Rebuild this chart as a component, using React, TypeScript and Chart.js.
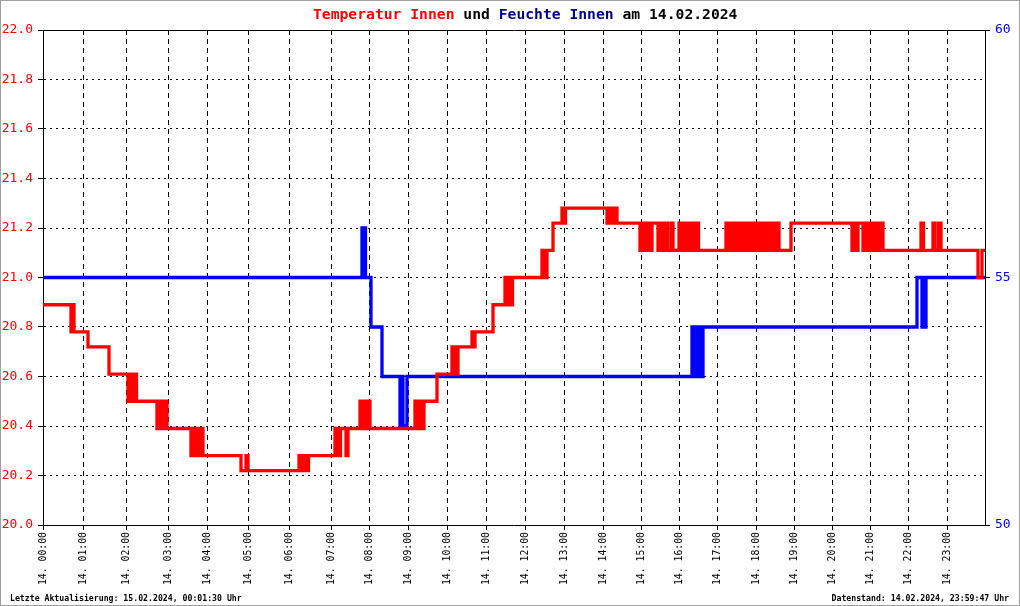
import React, { useEffect, useRef } from "react";
import { Chart, registerables } from "chart.js";

Chart.register(...registerables);

// x values are sample positions along the day's log (0 .. 942)
const xMax = 942;
const hourTickPos = [0, 40, 83, 125, 164, 205, 246, 288, 326, 365, 404, 443, 482, 521, 560, 598, 636, 674, 713, 751, 789, 827, 865, 904];
const hourLabels = ["14. 00:00", "14. 01:00", "14. 02:00", "14. 03:00", "14. 04:00", "14. 05:00", "14. 06:00", "14. 07:00", "14. 08:00", "14. 09:00", "14. 10:00", "14. 11:00", "14. 12:00", "14. 13:00", "14. 14:00", "14. 15:00", "14. 16:00", "14. 17:00", "14. 18:00", "14. 19:00", "14. 20:00", "14. 21:00", "14. 22:00", "14. 23:00"];

const tempSteps: [number, number][] = [
  [0, 20.89],
  [28, 20.78], [29.5, 20.89], [31, 20.78],
  [45, 20.72],
  [66, 20.61],
  [85, 20.5], [87, 20.61], [90, 20.5], [92, 20.61], [93.5, 20.5],
  [114, 20.39], [116, 20.5], [119, 20.39], [120.5, 20.5], [122, 20.39], [123, 20.5], [124, 20.39],
  [148, 20.28], [150, 20.39], [152, 20.28], [155, 20.39], [157, 20.28], [158.5, 20.39], [160, 20.28],
  [198, 20.22], [203, 20.28], [205, 20.22],
  [256, 20.28], [258, 20.22], [259.5, 20.28], [261, 20.22], [262.5, 20.28], [264, 20.22], [265.5, 20.28],
  [292, 20.39], [293.5, 20.28], [295, 20.39], [296, 20.28], [297.5, 20.39], [303, 20.28], [305, 20.39],
  [317, 20.5], [319, 20.39], [320.5, 20.5], [322, 20.39], [323.5, 20.5], [325, 20.39], [326, 20.5], [327, 20.39],
  [372, 20.5], [373.5, 20.39], [375, 20.5], [376.5, 20.39], [378, 20.5], [379.5, 20.39], [381, 20.5],
  [394, 20.61],
  [409, 20.72], [410.5, 20.61], [412, 20.72], [413.5, 20.61], [415, 20.72],
  [429, 20.78], [431, 20.72], [432, 20.78],
  [450, 20.89],
  [462, 21.0], [464, 20.89], [467, 21.0], [468.5, 20.89], [469.5, 21.0],
  [499, 21.11], [500.5, 21.0], [502, 21.11], [503, 21.0], [504, 21.11],
  [510, 21.22],
  [519, 21.28], [521, 21.22], [522.5, 21.28],
  [564, 21.22], [566, 21.28], [567.5, 21.22], [569, 21.28], [571, 21.22], [572.5, 21.28], [574, 21.22],
  [597, 21.11], [598.5, 21.22], [600, 21.11], [601.5, 21.22], [603, 21.11], [604.5, 21.22], [606, 21.11],
  [609, 21.22], [615, 21.11],
  [617, 21.22], [618.5, 21.11], [620, 21.22], [621.5, 21.11], [623, 21.22], [624.5, 21.11],
  [628, 21.22], [630, 21.11],
  [636, 21.22], [637.5, 21.11], [639, 21.22], [640.5, 21.11], [642, 21.22], [643.5, 21.11], [645, 21.22],
  [646.5, 21.11], [648, 21.22], [649.5, 21.11], [651, 21.22], [652.5, 21.11], [654, 21.22], [655.5, 21.11],
  [683, 21.22], [684.5, 21.11], [686, 21.22], [688, 21.11], [690, 21.22], [691.5, 21.11], [693, 21.22],
  [694.5, 21.11], [696, 21.22], [697.5, 21.11], [699, 21.22], [700.5, 21.11], [702, 21.22], [703.5, 21.11],
  [705, 21.22], [706.5, 21.11], [708, 21.22], [709.5, 21.11], [711, 21.22], [712.5, 21.11], [714, 21.22],
  [715.5, 21.11], [717, 21.22], [718.5, 21.11], [720, 21.22], [721.5, 21.11], [723, 21.22], [724.5, 21.11],
  [726, 21.22], [727.5, 21.11], [729, 21.22], [730.5, 21.11], [732, 21.22], [733.5, 21.11], [735, 21.22], [736, 21.11],
  [748, 21.22],
  [809, 21.11], [811, 21.22], [813, 21.11], [815, 21.22], [820, 21.11], [821.5, 21.22], [823, 21.11],
  [824.5, 21.22], [826, 21.11], [827, 21.22], [829, 21.11], [831, 21.22], [834, 21.11], [835.5, 21.22],
  [837, 21.11], [839, 21.22], [840, 21.11],
  [878, 21.22], [880.5, 21.11], [890, 21.22], [891.5, 21.11], [895, 21.22], [898, 21.11],
  [935, 21.0], [939, 21.11], [942, 21.11],
];

const humSteps: [number, number][] = [
  [0, 55], [319, 56], [320.5, 55], [321.5, 56], [322.5, 55], [328, 54], [339, 53],
  [357, 52], [359, 53], [360, 52], [364, 53],
  [649, 54], [650.5, 53], [652, 54], [653.5, 53], [655, 54], [656.5, 53], [658, 54], [659, 53], [660, 54],
  [874, 55], [879, 54], [881, 55], [882, 54], [883, 55], [942, 55],
];

const tempTicks = [20.0, 20.2, 20.4, 20.6, 20.8, 21.0, 21.2, 21.4, 21.6, 21.8, 22.0];
const humTicks = [50, 55, 60];

const titleParts: [string, string][] = [
  ["Temperatur Innen", "#ff0000"],
  [" und ", "#000000"],
  ["Feuchte Innen", "#00008b"],
  [" am 14.02.2024", "#000000"],
];
const footerLeft = "Letzte Aktualisierung: 15.02.2024, 00:01:30 Uhr";
const footerRight = "Datenstand: 14.02.2024, 23:59:47 Uhr";

const MONO = "'DejaVu Sans Mono', 'Liberation Mono', monospace";

const decorPlugin = {
  id: "decor",
  afterDraw(chart: any) {
    const ctx = chart.ctx;
    ctx.save();
    // outer border
    ctx.strokeStyle = "#a0a0a0";
    ctx.lineWidth = 1;
    ctx.setLineDash([]);
    ctx.strokeRect(0.5, 0.5, chart.width - 1, chart.height - 1);
    // title
    ctx.font = "bold 14.7px " + MONO;
    ctx.textBaseline = "alphabetic";
    ctx.textAlign = "left";
    let x = 313;
    for (const [t, c] of titleParts) {
      ctx.fillStyle = c;
      ctx.fillText(t, x, 19);
      x += ctx.measureText(t).width;
    }
    // footers
    ctx.font = "bold 8.2px " + MONO;
    ctx.fillStyle = "#000000";
    ctx.fillText(footerLeft, 10, 601);
    ctx.textAlign = "right";
    ctx.fillText(footerRight, 1009, 601);
    ctx.restore();
  },
};

export default function App() {
  const ref = useRef<HTMLCanvasElement | null>(null);
  useEffect(() => {
    document.body.style.margin = "0";
    const canvas = ref.current!;
    const chart = new Chart(canvas, {
      type: "line",
      data: {
        datasets: [
          {
            label: "Temperatur Innen",
            data: tempSteps.map(([x, y]) => ({ x, y })),
            borderColor: "#ff0000",
            borderWidth: 3.3,
            pointRadius: 0,
            stepped: true,
            yAxisID: "y",
            fill: false,
          },
          {
            label: "Feuchte Innen",
            data: humSteps.map(([x, y]) => ({ x, y })),
            borderColor: "#0000ff",
            borderWidth: 3.3,
            pointRadius: 0,
            stepped: true,
            yAxisID: "y1",
            fill: false,
          },
        ],
      },
      options: {
        responsive: false,
        animation: false,
        devicePixelRatio: 1,
        layout: { padding: { top: 30, left: 0, right: 0, bottom: 0 } },
        plugins: { legend: { display: false }, tooltip: { enabled: false }, title: { display: false } },
        scales: {
          x: {
            type: "linear",
            min: 0,
            max: xMax,
            afterBuildTicks: (s: any) => {
              s.ticks = hourTickPos.map((v) => ({ value: v }));
            },
            afterFit: (s: any) => {
              s.height = 81;
            },
            ticks: {
              autoSkip: false,
              maxRotation: 90,
              minRotation: 90,
              padding: 2,
              color: "#000000",
              font: { family: MONO, size: 9.8 },
              callback: (_v: any, i: number) => hourLabels[i],
            },
            grid: { color: "#000000", lineWidth: 1, tickLength: 5, drawTicks: true },
            border: { display: true, color: "#000000", width: 1, dash: [5, 4] },
          },
          y: {
            type: "linear",
            position: "left",
            min: 20,
            max: 22,
            afterBuildTicks: (s: any) => {
              s.ticks = tempTicks.map((v) => ({ value: v }));
            },
            afterFit: (s: any) => {
              s.width = 43;
            },
            ticks: {
              padding: 5,
              color: "#ff0000",
              font: { family: MONO, size: 13 },
              callback: (v: any) => Number(v).toFixed(1),
            },
            grid: { color: "#000000", lineWidth: 1, tickLength: 5 },
            border: {
              display: true,
              color: "#000000",
              width: 1,
              dash: (c: any) => (c.tick && c.tick.value === 22 ? [] : [2, 4]),
            },
          },
          y1: {
            type: "linear",
            position: "right",
            min: 50,
            max: 60,
            afterBuildTicks: (s: any) => {
              s.ticks = humTicks.map((v) => ({ value: v }));
            },
            afterFit: (s: any) => {
              s.width = 35;
            },
            ticks: {
              padding: 5,
              color: "#0000ff",
              font: { family: MONO, size: 13 },
              callback: (v: any) => String(v),
            },
            grid: { drawOnChartArea: false, color: "#000000", lineWidth: 1, tickLength: 5 },
            border: { display: true, color: "#000000", width: 1 },
          },
        },
      },
      plugins: [decorPlugin],
    } as any);
    return () => chart.destroy();
  }, []);
  return (
    <div style={{ width: 1020, height: 606, background: "#ffffff" }}>
      <canvas ref={ref} width={1020} height={606} style={{ display: "block", width: 1020, height: 606 }} />
    </div>
  );
}
